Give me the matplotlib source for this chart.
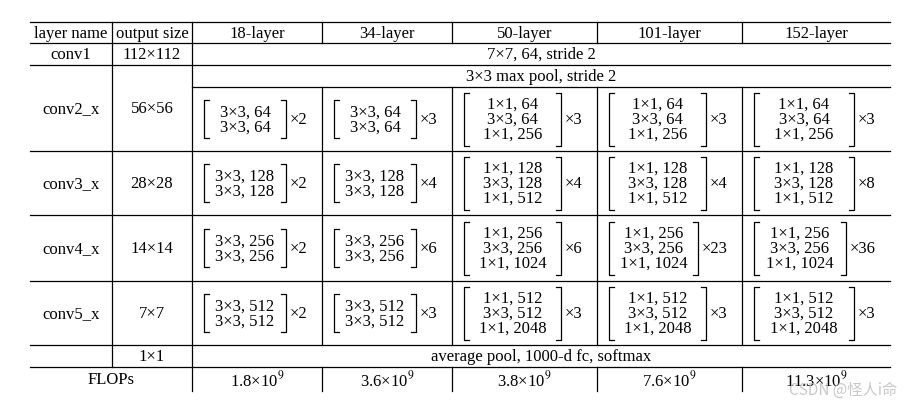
import matplotlib
matplotlib.use("Agg")
import matplotlib.pyplot as plt

plt.rcParams['font.family'] = ['Liberation Serif', 'DejaVu Serif']
plt.rcParams['mathtext.fontset'] = 'stix'

headers = ["layer name", "output size", "18-layer", "34-layer", "50-layer", "101-layer", "152-layer"]
layer_names = ["conv2_x", "conv3_x", "conv4_x", "conv5_x"]
output_sizes = ["56×56", "28×28", "14×14", "7×7"]
basic_blocks = [["3×3, 64", "3×3, 64"], ["3×3, 128", "3×3, 128"],
                ["3×3, 256", "3×3, 256"], ["3×3, 512", "3×3, 512"]]
bottleneck_blocks = [["1×1, 64", "3×3, 64", "1×1, 256"], ["1×1, 128", "3×3, 128", "1×1, 512"],
                     ["1×1, 256", "3×3, 256", "1×1, 1024"], ["1×1, 512", "3×3, 512", "1×1, 2048"]]
repeats = {"18-layer": [2, 2, 2, 2], "34-layer": [3, 4, 6, 3], "50-layer": [3, 4, 6, 3],
           "101-layer": [3, 4, 23, 3], "152-layer": [3, 8, 36, 3]}
flops = ["1.8", "3.6", "3.8", "7.6", "11.3"]

colx = [30, 112, 192, 322, 452, 597, 742, 890]
rowy = [23, 44, 66, 88, 152, 216, 282, 346, 368, 392]
W, H = 913, 406
fig = plt.figure(figsize=(W/100, H/100), dpi=100)
ax = fig.add_axes([0, 0, 1, 1])
ax.set_xlim(0, W); ax.set_ylim(H, 0); ax.axis('off')
fs = 12
lk = dict(color='black', lw=0.9)

def hl(y, x0=colx[0], x1=colx[-1]): ax.plot([x0, x1], [y, y], **lk)
def vl(x, y0, y1): ax.plot([x, x], [y0, y1], **lk)
def txt(x, y, s, **kw): ax.text(x, y, s, ha='center', va='center', fontsize=fs, **kw)

for y in [23, 44, 66, 152, 216, 282, 346, 368]:
    hl(y)
hl(88, colx[2])
vl(colx[1], 23, 368)
vl(colx[2], 23, 392)
for x in colx[3:7]:
    vl(x, 23, 44); vl(x, 88, 346); vl(x, 368, 392)

for i, h in enumerate(headers):
    txt((colx[i]+colx[i+1])/2, 33.5, h)
txt((colx[0]+colx[1])/2, 55, "conv1")
txt((colx[1]+colx[2])/2, 55, "112×112")
txt((colx[2]+colx[-1])/2, 55, "7×7, 64, stride 2")
txt((colx[2]+colx[-1])/2, 77, "3×3 max pool, stride 2")
txt((colx[1]+colx[2])/2, 357, "1×1")
txt((colx[2]+colx[-1])/2, 357, "average pool, 1000-d fc, softmax")
txt((colx[0]+colx[2])/2, 380, "FLOPs")
for j, f in enumerate(flops):
    txt((colx[j+2]+colx[j+3])/2, 380, f + r"×10$^9$")

def bracket(xl, xr, yc, half):
    s = 5
    ax.plot([xl+s, xl, xl, xl+s], [yc-half, yc-half, yc+half, yc+half], **lk)
    ax.plot([xr-s, xr, xr, xr-s], [yc-half, yc-half, yc+half, yc+half], **lk)

for r in range(4):
    y0 = 66 if r == 0 else rowy[3+r]
    y1 = rowy[4+r]
    yc = (y0+y1)/2
    txt((colx[0]+colx[1])/2, yc, layer_names[r])
    txt((colx[1]+colx[2])/2, yc, output_sizes[r])
    ybc = (88+152)/2 if r == 0 else yc
    for c in range(5):
        name = headers[c+2]
        x0, x1 = colx[c+2], colx[c+3]
        lines = basic_blocks[r] if c < 2 else bottleneck_blocks[r]
        n = len(lines)
        rep = repeats[name][r]
        xl = x0 + 12
        xr = x1 - (36 if rep < 10 else 44)
        half = 7.5*n + 4
        bracket(xl, xr, ybc, half)
        for k, s in enumerate(lines):
            txt((xl+xr)/2, ybc + (k-(n-1)/2)*15, s)
        ax.text(xr+4, ybc, f"×{rep}", ha='left', va='center', fontsize=fs)

ax.text(897, 390, "CSDN @怪人i命", ha='right', va='center', fontsize=11, color='#bbbbbb',
        family=['Noto Sans CJK SC', 'DejaVu Sans'], alpha=0.8)
fig.savefig("out.png", dpi=100)
